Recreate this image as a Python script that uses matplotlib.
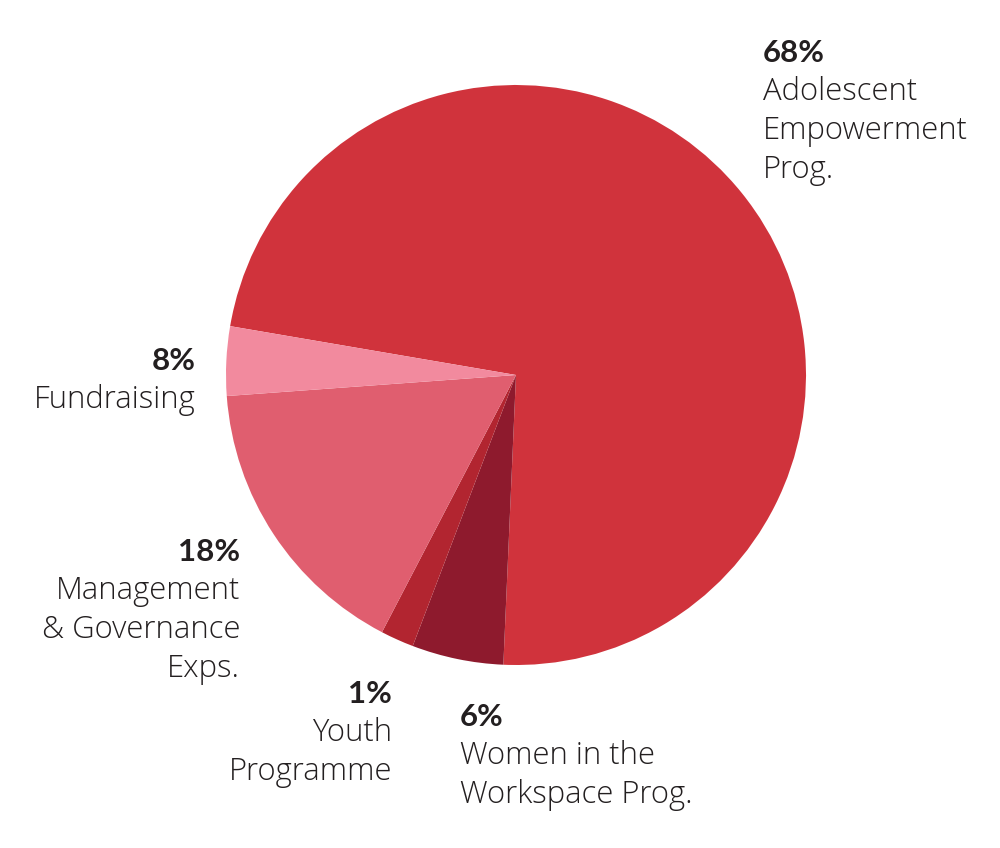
import matplotlib.pyplot as plt

# slice shares as drawn in the chart (percent of circle), and printed labels
categories = ['Adolescent\nEmpowerment\nProg.', 'Women in the\nWorkspace Prog.',
              'Youth\nProgramme', 'Management\n& Governance\nExps.', 'Fundraising']
shares = [73.0, 5.1, 1.85, 16.2, 3.85]
pct_labels = ['68%', '6%', '1%', '18%', '8%']
colors = ['#D0333C', '#8E1A2D', '#B22530', '#E05E6F', '#F28A9E']

# label anchors (pixels from top-left) and alignment
label_pos = [(763, 53, 'left'), (460, 717, 'left'), (392, 694, 'right'),
             (240, 552, 'right'), (196, 361, 'right')]

W, H = 1000, 848
fig = plt.figure(figsize=(W / 100, H / 100), dpi=100)
ax = fig.add_axes([0, 0, 1, 1])
ax.set_xlim(0, W)
ax.set_ylim(0, H)
ax.set_aspect('equal')
ax.axis('off')

ax.pie(shares, colors=colors, startangle=170.3, counterclock=False,
       center=(516, H - 375), radius=290,
       wedgeprops=dict(linewidth=0, antialiased=True))
ax.set_xlim(0, W)
ax.set_ylim(0, H)

line_h = 39
txt_color = '#231F20'
for cat, pct, (x, y, ha) in zip(categories, pct_labels, label_pos):
    ax.text(x, H - y, pct, ha=ha, va='center', fontsize=22.5, fontweight='bold',
            family='Lato', color=txt_color)
    for i, line in enumerate(cat.split('\n')):
        ax.text(x, H - (y + line_h * (i + 1)), line, ha=ha, va='center',
                fontsize=22.3, fontweight='light', family='Open Sans', color=txt_color)

fig.savefig('out.png', dpi=100, facecolor='white')
